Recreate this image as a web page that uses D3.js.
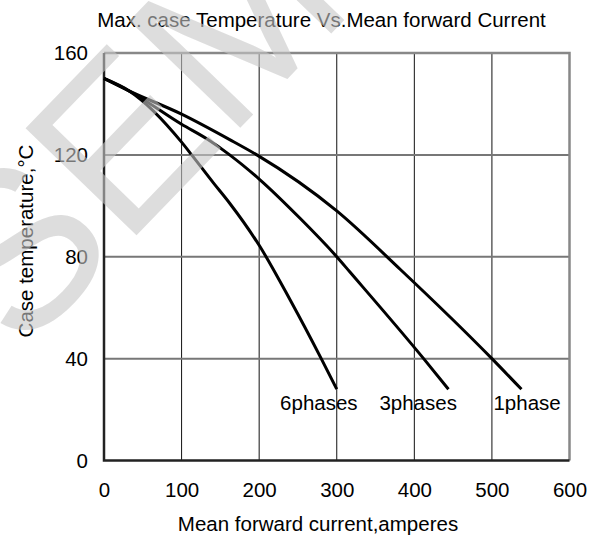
<!DOCTYPE html>
<html>
<head>
<meta charset="utf-8">
<script src="https://cdn.jsdelivr.net/npm/d3@7"></script>
<style>
  body { margin: 0; background: #fff; }
  text { font-family: Arial, "Liberation Sans", sans-serif; }
</style>
</head>
<body>
<div id="chart"></div>
<script>
// Values
const xTicks = [0, 100, 200, 300, 400, 500, 600];
const yTicks = [0, 40, 80, 120, 160];

const seriesNames = ["1phase", "3phases", "6phases"];
const current1 = [0, 33, 100, 162, 197, 300, 382, 500, 538];
const temp1    = [150, 145, 136, 126, 120, 98, 75, 40, 28];
const current3 = [0, 33, 100, 134, 162, 200, 253, 300, 317, 412, 444];
const temp3    = [150, 145, 132, 126, 120, 110.5, 95, 80, 74, 40, 28];
const current6 = [0, 33, 100, 113, 141, 162, 201, 240, 280, 300];
const temp6    = [150, 145, 125, 120, 109, 101, 84, 63, 40, 28];

// where each curve name sits (start of text, in data units)
const labelCurrent = [502, 355, 227];
const labelTemp = [20, 20, 20];

const width = 601, height = 539;
const margin = {top: 53, right: 31.5, bottom: 78.5, left: 104};
const fontSize = "20.5px";

const svg = d3.select("#chart")
  .append("svg")
  .attr("width", width)
  .attr("height", height);

const x = d3.scaleLinear().domain([0, 600]).range([margin.left, width - margin.right]);
const y = d3.scaleLinear().domain([0, 160]).range([height - margin.bottom, margin.top]);

// grid
svg.append("g")
  .selectAll("line")
  .data(xTicks.slice(1, -1))
  .enter()
  .append("line")
  .attr("x1", d => x(d)).attr("x2", d => x(d))
  .attr("y1", y(0)).attr("y2", y(160))
  .style("stroke", "#111")
  .style("stroke-width", 1);

svg.append("g")
  .selectAll("line")
  .data(yTicks.slice(1, -1))
  .enter()
  .append("line")
  .attr("x1", x(0)).attr("x2", x(600))
  .attr("y1", d => y(d)).attr("y2", d => y(d))
  .style("stroke", "#777")
  .style("stroke-width", 2);

// frame: top/right gray, left/bottom dark
svg.append("path")
  .attr("d", `M${x(0)},${y(160)}H${x(600)}V${y(0)}`)
  .style("fill", "none")
  .style("stroke", "#888")
  .style("stroke-width", 2.5);
svg.append("path")
  .attr("d", `M${x(0)},${y(160)}V${y(0)}H${x(600)}`)
  .style("fill", "none")
  .style("stroke", "#222")
  .style("stroke-width", 2.5);

// axes via d3 axis, domain and tick marks hidden
const xAxis = svg.append("g")
  .attr("transform", "translate(0," + y(0) + ")")
  .call(d3.axisBottom(x).tickValues(xTicks).tickSize(0).tickPadding(22));
const yAxis = svg.append("g")
  .attr("transform", "translate(" + x(0) + ",0)")
  .call(d3.axisLeft(y).tickValues(yTicks).tickSize(0).tickPadding(16));
[xAxis, yAxis].forEach(function (g) {
  g.select(".domain").remove();
  g.selectAll("text")
    .style("font-size", fontSize)
    .style("font-family", "Arial, 'Liberation Sans', sans-serif")
    .style("fill", "#000");
});

// curves
const series = [
  current1.map((c, i) => [c, temp1[i]]),
  current3.map((c, i) => [c, temp3[i]]),
  current6.map((c, i) => [c, temp6[i]])
];

const line = d3.line()
  .x(d => x(d[0]))
  .y(d => y(d[1]))
  .curve(d3.curveMonotoneX);

svg.append("g")
  .selectAll("path")
  .data(series)
  .enter()
  .append("path")
  .attr("d", line)
  .style("fill", "none")
  .style("stroke", "#000")
  .style("stroke-width", 3);

svg.append("g")
  .selectAll("text")
  .data(seriesNames)
  .enter()
  .append("text")
  .attr("x", (d, i) => x(labelCurrent[i]))
  .attr("y", (d, i) => y(labelTemp[i]))
  .style("font-size", fontSize)
  .text(d => d);

// titles
svg.append("text")
  .attr("x", 321.5)
  .attr("y", 27)
  .attr("text-anchor", "middle")
  .style("font-size", fontSize)
  .text("Max. case Temperature Vs.Mean forward Current");

svg.append("text")
  .attr("x", 318)
  .attr("y", 531)
  .attr("text-anchor", "middle")
  .style("font-size", fontSize)
  .text("Mean forward current,amperes");

svg.append("text")
  .attr("transform", "translate(33,241) rotate(-90)")
  .attr("text-anchor", "middle")
  .style("font-size", fontSize)
  .text("Case temperature,°C");

// watermark on top
svg.append("text")
  .attr("transform", "translate(20,356) rotate(-46)")
  .style("font-size", "224px")
  .style("fill", "rgb(198,198,198)")
  .style("fill-opacity", 0.6)
  .text("SEMIKRON");
</script>
</body>
</html>
